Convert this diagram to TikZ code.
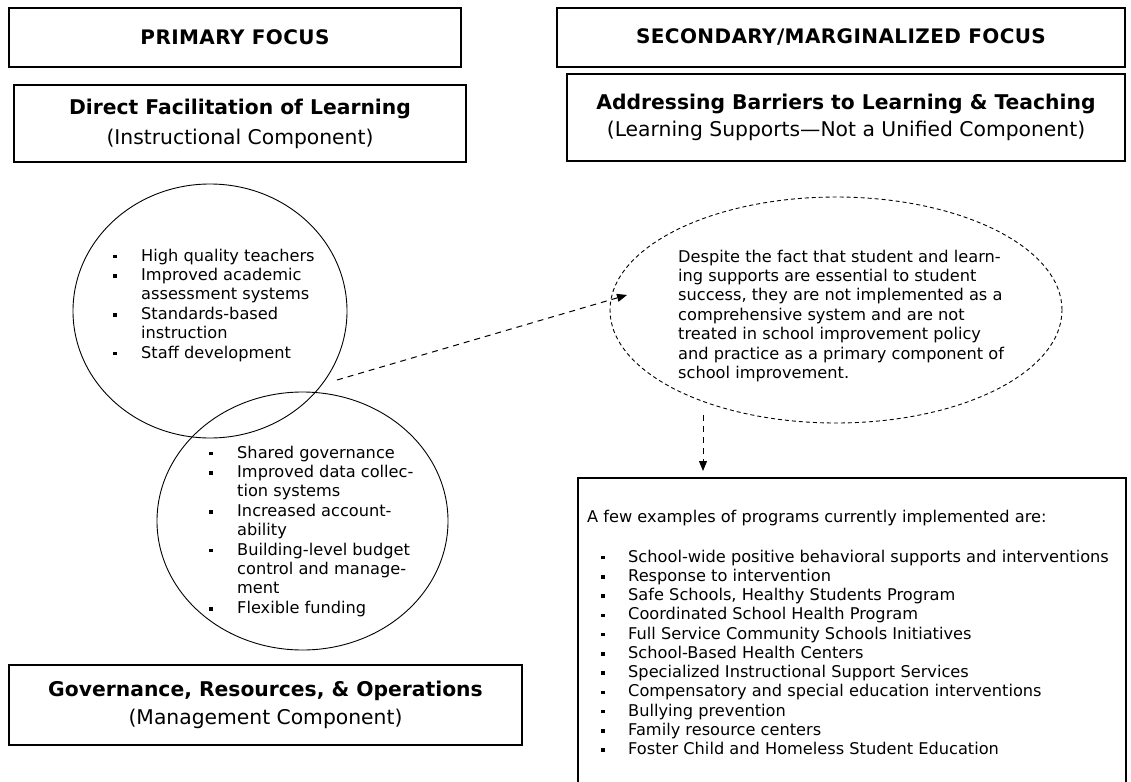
\documentclass[tikz,border=0pt]{standalone}
\usepackage{fontspec}
\setmainfont{DejaVu Sans}
\newfontfamily\capsfont[LetterSpace=2]{DejaVu Sans Bold}
\usetikzlibrary{arrows.meta,shapes.geometric}
\newcommand{\mybul}{\makebox[28pt][l]{\raisebox{2.6pt}{\rule{3.5pt}{3.5pt}}}}
\newcommand{\myind}{\hspace*{28pt}}
\tikzset{
  box/.style={draw=black, line width=1.1pt, inner sep=0pt, align=center},
  headtxt/.style={font=\fontsize{20}{25}\capsfont},
  ring/.style={ellipse, draw=black, line width=0.9pt, inner sep=0pt},
  dring/.style={ellipse, draw=black, line width=0.9pt, inner sep=0pt, dash pattern=on 4pt off 3pt},
  body/.style={inner sep=0pt, anchor=north west, align=left},
  conn/.style={draw=black, line width=1pt, dash pattern=on 6pt off 5pt, -{Triangle[length=10pt,width=8pt]}}
}
\begin{document}
\begin{tikzpicture}[x=1pt,y=-1pt]
\useasboundingbox (0,0) rectangle (1131,781);
\fill[white] (0,0) rectangle (1131,781);

% header boxes
\node[box, headtxt, minimum width=452pt, minimum height=59pt] (pf) at (235,37.5) {PRIMARY FOCUS};
\node[box, headtxt, minimum width=568pt, minimum height=59pt] (sf) at (841,37.5) {SECONDARY/MARGINALIZED FOCUS};

% component boxes
\node[box, font=\fontsize{20.3}{30}\selectfont, minimum width=452pt, minimum height=77pt] (dfl) at (240,123.5)
  {\textbf{Direct Facilitation of Learning}\\(Instructional Component)};
\node[box, font=\fontsize{20.3}{27}\selectfont, minimum width=558pt, minimum height=87pt] (abl) at (846,117.5)
  {\textbf{Addressing Barriers to Learning \& Teaching}\\(Learning Supports—Not a Unified Component)};
\node[box, font=\fontsize{20.3}{28}\selectfont, minimum width=513pt, minimum height=80pt] (gro) at (265.5,705)
  {\textbf{Governance, Resources, \& Operations}\\(Management Component)};

% circles
\node[ring, minimum width=274pt, minimum height=254pt] (c1) at (210,311) {};
\node[ring, minimum width=291pt, minimum height=258pt] (c2) at (302.5,521) {};
\node[dring, minimum width=452pt, minimum height=226pt] (e1) at (836,310) {};

\node[body, font=\fontsize{16.2}{19.4}\selectfont] (t1) at (113,248.5)
 {\mybul High quality teachers\\
  \mybul Improved academic\\
  \myind assessment systems\\
  \mybul Standards-based\\
  \myind instruction\\
  \mybul Staff development};

\node[body, font=\fontsize{16.2}{19.4}\selectfont] (t2) at (209,445.5)
 {\mybul Shared governance\\
  \mybul Improved data collec-\\
  \myind tion systems\\
  \mybul Increased account-\\
  \myind ability\\
  \mybul Building-level budget\\
  \myind control and manage-\\
  \myind ment\\
  \mybul Flexible funding};

\node[body, font=\fontsize{16.2}{19.4}\selectfont] (t3) at (678,249.5)
 {Despite the fact that student and learn-\\
  ing supports are essential to student\\
  success, they are not implemented as a\\
  comprehensive system and are not\\
  treated in school improvement policy\\
  and practice as a primary component of\\
  school improvement.};

% examples box
\node[draw=black, line width=1.1pt, minimum width=548pt, minimum height=320pt, inner sep=0pt] (ex) at (852,638) {};
\node[body, font=\fontsize{16.2}{19.25}\selectfont] (exh) at (587,509.5)
 {A few examples of programs currently implemented are:};
\node[body, font=\fontsize{16.2}{19.25}\selectfont] (exl) at (601,549.5)
 {\makebox[27pt][l]{\raisebox{2.6pt}{\rule{3.5pt}{3.5pt}}}School-wide positive behavioral supports and interventions\\
  \makebox[27pt][l]{\raisebox{2.6pt}{\rule{3.5pt}{3.5pt}}}Response to intervention\\
  \makebox[27pt][l]{\raisebox{2.6pt}{\rule{3.5pt}{3.5pt}}}Safe Schools, Healthy Students Program\\
  \makebox[27pt][l]{\raisebox{2.6pt}{\rule{3.5pt}{3.5pt}}}Coordinated School Health Program\\
  \makebox[27pt][l]{\raisebox{2.6pt}{\rule{3.5pt}{3.5pt}}}Full Service Community Schools Initiatives\\
  \makebox[27pt][l]{\raisebox{2.6pt}{\rule{3.5pt}{3.5pt}}}School-Based Health Centers\\
  \makebox[27pt][l]{\raisebox{2.6pt}{\rule{3.5pt}{3.5pt}}}Specialized Instructional Support Services\\
  \makebox[27pt][l]{\raisebox{2.6pt}{\rule{3.5pt}{3.5pt}}}Compensatory and special education interventions\\
  \makebox[27pt][l]{\raisebox{2.6pt}{\rule{3.5pt}{3.5pt}}}Bullying prevention\\
  \makebox[27pt][l]{\raisebox{2.6pt}{\rule{3.5pt}{3.5pt}}}Family resource centers\\
  \makebox[27pt][l]{\raisebox{2.6pt}{\rule{3.5pt}{3.5pt}}}Foster Child and Homeless Student Education};

% connectors
\coordinate (a1s) at (337,380);
\coordinate (a1e) at (627,295);
\coordinate (a2s) at (703,415);
\coordinate (a2e) at (703,471);
\draw[conn] (a1s) -- (a1e);
\draw[conn] (a2s) -- (a2e);
\end{tikzpicture}
\end{document}
